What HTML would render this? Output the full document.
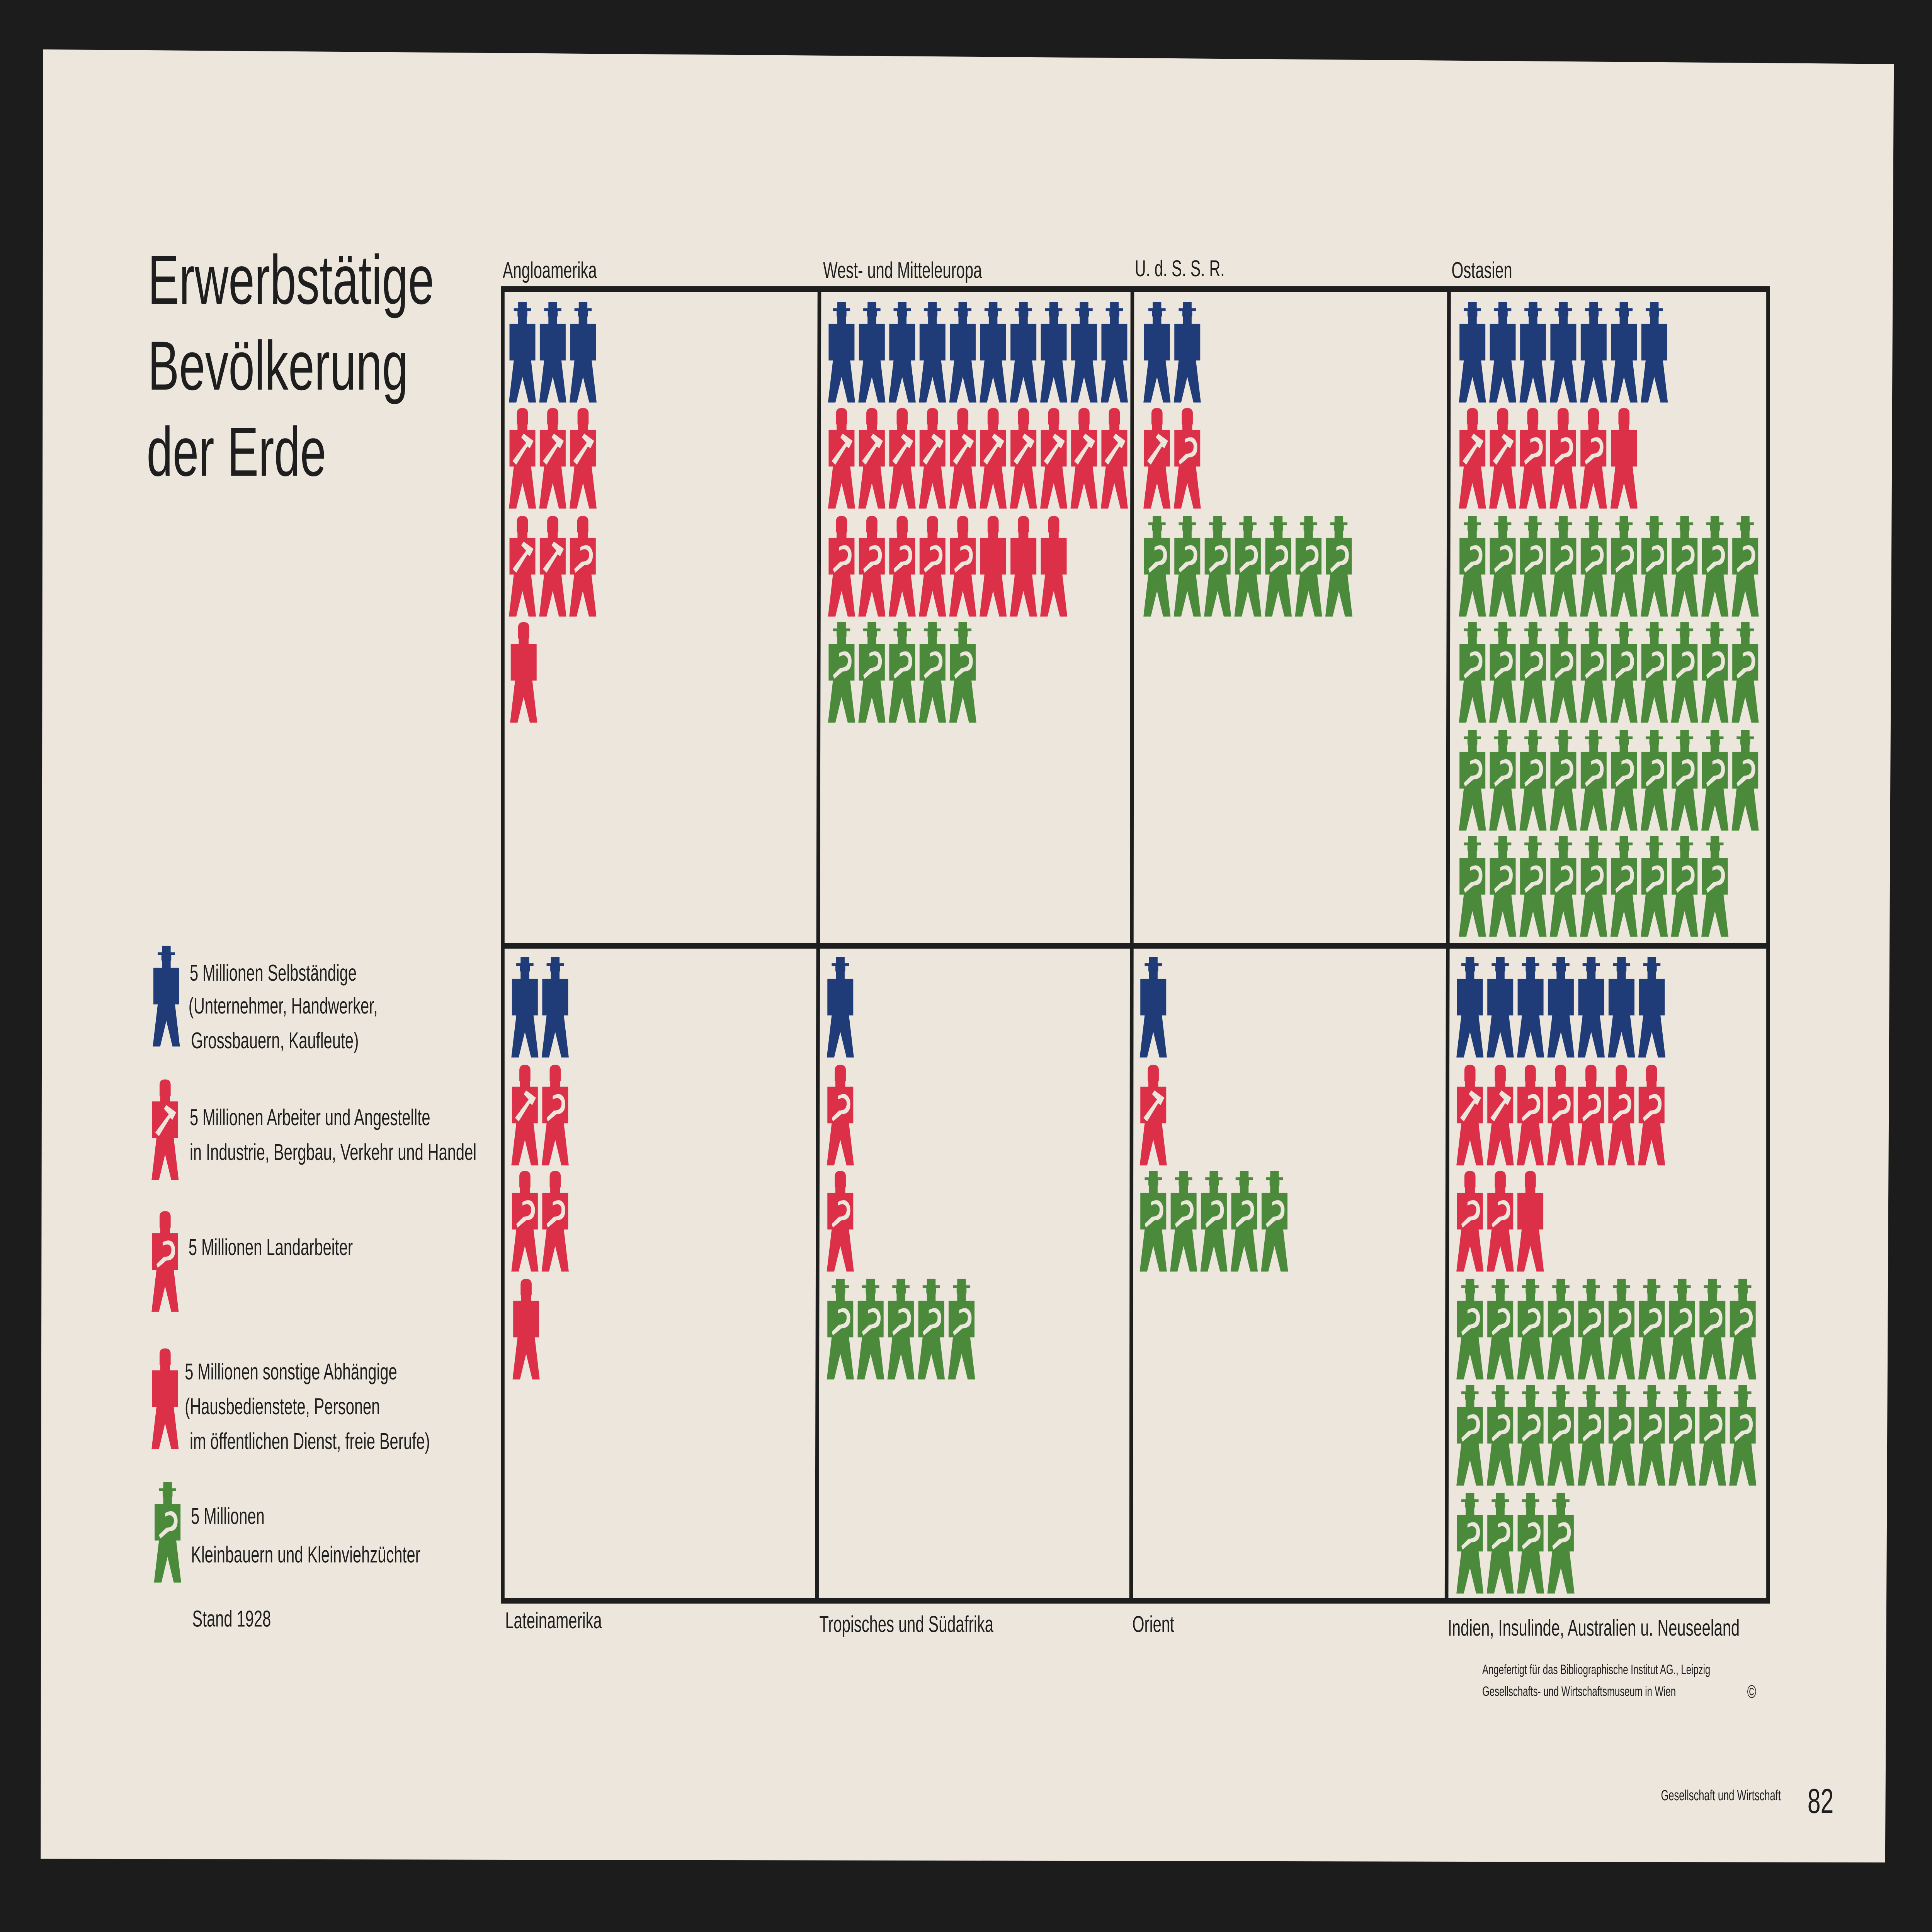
<!DOCTYPE html>
<html><head><meta charset="utf-8"><style>
html,body{margin:0;padding:0;background:#1c1c1c;width:100%;height:100%;overflow:hidden;}
svg{display:block;position:absolute;left:0;top:0;width:100vw;height:100vh;}
text{font-family:"Liberation Sans",sans-serif;fill:#1e1e1e;}
</style></head><body>
<svg viewBox="0 0 1568 1056" preserveAspectRatio="none" xmlns="http://www.w3.org/2000/svg">
<defs>
<path id="body" d="M0.5,12 H7 V9 H6.5 V3 Q6.5,0 11,0 Q15.5,0 15.5,3 V9 H15 V12 H21.5 V32 H18 L22,55 H16 L11,41 L6,55 H0 L4,32 H0.5 Z"/>
<path id="bodyhat" d="M0.5,12 H7.5 V8 H7 V5 H4 V3.5 H7.5 V0 H14.5 V3.5 H18 V5 H15 V8 H14.5 V12 H21.5 V32 H18 L22,55 H16 L11,41 L6,55 H0 L4,32 H0.5 Z"/>
<path id="hammer" d="M3,29 L14,19 L10,16 L12,14 L20,18 L17,22 L15,21 L6,31 Z" fill="#ece6dc"/>
<path id="sickle" d="M9,17 Q17,14 19,20 Q20,27 12,27 L5,31 L4,29 L10,25 Q17,25 16,20 Q14,17 9,19 Z" fill="#ece6dc"/>
<g id="fB"><use href="#bodyhat" fill="#1f3b78"/></g>
<g id="fH"><use href="#body" fill="#dc2f48"/><use href="#hammer"/></g>
<g id="fS"><use href="#body" fill="#dc2f48"/><use href="#sickle"/></g>
<g id="fR"><use href="#body" fill="#dc2f48"/></g>
<g id="fG"><use href="#bodyhat" fill="#4a8a3a"/><use href="#sickle"/></g>
<pattern id="pB" patternUnits="userSpaceOnUse" width="24.6" height="60"><use href="#fB" x="1"/></pattern>
<pattern id="pH" patternUnits="userSpaceOnUse" width="24.6" height="60"><use href="#fH" x="1"/></pattern>
<pattern id="pS" patternUnits="userSpaceOnUse" width="24.6" height="60"><use href="#fS" x="1"/></pattern>
<pattern id="pR" patternUnits="userSpaceOnUse" width="24.6" height="60"><use href="#fR" x="1"/></pattern>
<pattern id="pG" patternUnits="userSpaceOnUse" width="24.6" height="60"><use href="#fG" x="1"/></pattern>
</defs>
<rect width="1568" height="1056" fill="#1c1c1c"/>
<polygon points="35,27 1537,35 1530,1018 33,1016" fill="#ece6dc"/>

<text x="120" y="166" font-size="38">Erwerbstätige</text>
<text x="120" y="213" font-size="38">Bevölkerung</text>
<text x="119" y="260" font-size="38">der Erde</text>

<g fill="none" stroke="#1e1e1e" stroke-width="3">
<rect x="408" y="158" width="1027" height="717"/>
<line x1="408" y1="517" x2="1435" y2="517"/>
<line x1="665" y1="158" x2="663" y2="875"/>
<line x1="919" y1="158" x2="918" y2="875"/>
<line x1="1176" y1="158" x2="1174" y2="875"/>
</g>

<g font-size="12.5">
<text x="408" y="152">Angloamerika</text>
<text x="668" y="152">West-  und  Mitteleuropa</text>
<text x="921" y="151">U. d. S. S. R.</text>
<text x="1178" y="152">Ostasien</text>
<text x="410" y="890">Lateinamerika</text>
<text x="665" y="892">Tropisches  und  Südafrika</text>
<text x="919" y="892">Orient</text>
<text x="1175" y="894">Indien, Insulinde, Australien  u.  Neuseeland</text>
</g>

<g transform="translate(412,165)"><rect width="74" height="56" fill="url(#pB)"/></g>
<g transform="translate(412,223)"><rect width="74" height="56" fill="url(#pH)"/></g>
<g transform="translate(412,282)"><rect width="49" height="56" fill="url(#pH)"/></g>
<g transform="translate(461,282)"><rect width="25" height="56" fill="url(#pS)"/></g>
<g transform="translate(413,340)"><rect width="25" height="56" fill="url(#pR)"/></g>

<g transform="translate(671,165)"><rect width="246" height="56" fill="url(#pB)"/></g>
<g transform="translate(671,223)"><rect width="246" height="56" fill="url(#pH)"/></g>
<g transform="translate(671,282)"><rect width="123" height="56" fill="url(#pS)"/></g>
<g transform="translate(794,282)"><rect width="74" height="56" fill="url(#pR)"/></g>
<g transform="translate(671,340)"><rect width="123" height="56" fill="url(#pG)"/></g>

<g transform="translate(927,165)"><rect width="49" height="56" fill="url(#pB)"/></g>
<g transform="translate(927,223)"><rect width="25" height="56" fill="url(#pH)"/></g>
<g transform="translate(951.6,223)"><rect width="25" height="56" fill="url(#pS)"/></g>
<g transform="translate(927,282)"><rect width="172" height="56" fill="url(#pG)"/></g>

<g transform="translate(1183,165)"><rect width="172" height="56" fill="url(#pB)"/></g>
<g transform="translate(1183,223)"><rect width="49" height="56" fill="url(#pH)"/></g>
<g transform="translate(1232,223)"><rect width="74" height="56" fill="url(#pS)"/></g>
<g transform="translate(1306,223)"><rect width="25" height="56" fill="url(#pR)"/></g>
<g transform="translate(1183,282)"><rect width="246" height="56" fill="url(#pG)"/></g>
<g transform="translate(1183,340)"><rect width="246" height="56" fill="url(#pG)"/></g>
<g transform="translate(1183,399)"><rect width="246" height="56" fill="url(#pG)"/></g>
<g transform="translate(1183,457)"><rect width="221" height="56" fill="url(#pG)"/></g>

<g transform="translate(414,523)"><rect width="49" height="56" fill="url(#pB)"/></g>
<g transform="translate(414,582)"><rect width="25" height="56" fill="url(#pH)"/></g>
<g transform="translate(438.6,582)"><rect width="25" height="56" fill="url(#pS)"/></g>
<g transform="translate(414,640)"><rect width="49" height="56" fill="url(#pS)"/></g>
<g transform="translate(415,699)"><rect width="25" height="56" fill="url(#pR)"/></g>

<g transform="translate(670,523)"><rect width="25" height="56" fill="url(#pB)"/></g>
<g transform="translate(670,582)"><rect width="25" height="56" fill="url(#pS)"/></g>
<g transform="translate(670,640)"><rect width="25" height="56" fill="url(#pS)"/></g>
<g transform="translate(670,699)"><rect width="123" height="56" fill="url(#pG)"/></g>

<g transform="translate(924,523)"><rect width="25" height="56" fill="url(#pB)"/></g>
<g transform="translate(924,582)"><rect width="25" height="56" fill="url(#pH)"/></g>
<g transform="translate(924,640)"><rect width="123" height="56" fill="url(#pG)"/></g>

<g transform="translate(1181,523)"><rect width="172" height="56" fill="url(#pB)"/></g>
<g transform="translate(1181,582)"><rect width="49" height="56" fill="url(#pH)"/></g>
<g transform="translate(1230,582)"><rect width="123" height="56" fill="url(#pS)"/></g>
<g transform="translate(1181,640)"><rect width="49" height="56" fill="url(#pS)"/></g>
<g transform="translate(1230,640)"><rect width="25" height="56" fill="url(#pR)"/></g>
<g transform="translate(1181,699)"><rect width="246" height="56" fill="url(#pG)"/></g>
<g transform="translate(1181,757)"><rect width="246" height="56" fill="url(#pG)"/></g>
<g transform="translate(1181,816)"><rect width="98" height="56" fill="url(#pG)"/></g>

<use href="#fB" x="124" y="517"/>
<use href="#fH" x="123" y="590"/>
<use href="#fS" x="123" y="662"/>
<use href="#fR" x="123" y="737"/>
<use href="#fG" x="125" y="810"/>
<g font-size="12.5">
<text x="154" y="536">5 Millionen  Selbständige</text>
<text x="153" y="554">(Unternehmer,  Handwerker,</text>
<text x="155" y="573">Grossbauern,  Kaufleute)</text>
<text x="154" y="615">5 Millionen  Arbeiter  und  Angestellte</text>
<text x="154" y="634">in  Industrie, Bergbau, Verkehr  und  Handel</text>
<text x="153" y="686">5  Millionen  Landarbeiter</text>
<text x="150" y="754">5  Millionen  sonstige  Abhängige</text>
<text x="150" y="773">(Hausbedienstete,   Personen</text>
<text x="154" y="792">im  öffentlichen  Dienst,  freie  Berufe)</text>
<text x="155" y="833">5 Millionen</text>
<text x="155" y="854">Kleinbauern  und  Kleinviehzüchter</text>
<text x="156" y="889">Stand 1928</text>
</g>

<g font-size="7.5">
<text x="1203" y="915">Angefertigt für das Bibliographische Institut AG., Leipzig</text>
<text x="1203" y="927">Gesellschafts- und Wirtschaftsmuseum in Wien</text>
<text x="1418" y="928" font-size="10">©</text>
<text x="1348" y="984" font-size="8">Gesellschaft und Wirtschaft</text>
</g>
<text x="1467" y="991" font-size="19">82</text>
</svg>
</body></html>
